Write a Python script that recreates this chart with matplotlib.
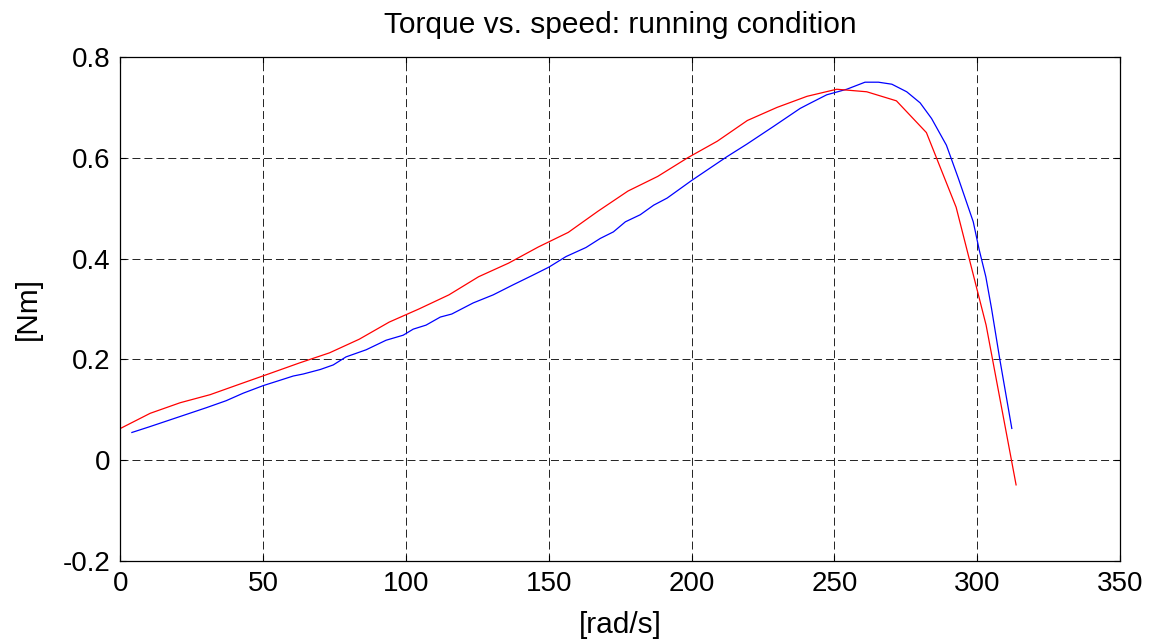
import matplotlib
matplotlib.use("Agg")
import matplotlib.pyplot as plt

plt.rcParams['font.family'] = ['Liberation Sans', 'DejaVu Sans']
plt.rcParams['axes.unicode_minus'] = False

# red curve
speed_red = [0, 10.4, 20.9, 31.4, 41.8, 52.3, 62.7, 73.2, 83.6, 94.1, 104.5,
             115.0, 125.4, 135.9, 146.3, 156.8, 167.2, 177.7, 188.1, 198.6,
             209.0, 219.5, 229.9, 240.4, 250.8, 261.3, 271.7, 282.2, 292.6,
             303.1, 313.6]
torque_red = [0.063, 0.093, 0.114, 0.130, 0.151, 0.172, 0.193, 0.213, 0.240,
              0.274, 0.300, 0.328, 0.364, 0.391, 0.423, 0.452, 0.494, 0.534,
              0.563, 0.600, 0.633, 0.674, 0.700, 0.722, 0.736, 0.731, 0.713,
              0.650, 0.502, 0.268, -0.049]

# blue curve
speed_blue = [4, 10, 20, 30, 37, 43, 50, 55, 60.5, 64, 70, 74.5, 79, 86, 93,
              99, 102.5, 107, 112, 116, 123.5, 130.5, 137.5, 144, 150, 156,
              163, 168, 172.6, 176.8, 182, 186.7, 191.4, 200, 212.3, 219.3,
              228.6, 238, 241.4, 247.3, 254.3, 260.7, 265.4, 270.1, 275.3,
              280, 284, 289.2, 293.4, 298.6, 300.7, 303, 305, 307.9, 312.1]
torque_blue = [0.055, 0.066, 0.085, 0.104, 0.118, 0.133, 0.148, 0.157, 0.167,
               0.171, 0.180, 0.189, 0.205, 0.219, 0.238, 0.248, 0.260, 0.268,
               0.284, 0.290, 0.312, 0.328, 0.348, 0.366, 0.383, 0.404, 0.422,
               0.440, 0.453, 0.473, 0.487, 0.506, 0.520, 0.555, 0.602, 0.627,
               0.662, 0.698, 0.708, 0.725, 0.736, 0.750, 0.750, 0.746, 0.731,
               0.709, 0.678, 0.625, 0.559, 0.473, 0.417, 0.364, 0.301, 0.200,
               0.063]

x_ticks = [0, 50, 100, 150, 200, 250, 300, 350]
y_ticks = [-0.2, 0, 0.2, 0.4, 0.6, 0.8]
y_tick_labels = ["-0.2", "0", "0.2", "0.4", "0.6", "0.8"]

fig = plt.figure(figsize=(11.56, 6.44), dpi=100)
ax = fig.add_axes([0.1042, 0.1289, 0.8647, 0.7826])

ax.plot(speed_blue, torque_blue, color="#0000ff", linewidth=0.9)
ax.plot(speed_red, torque_red, color="#ff0000", linewidth=0.9)

ax.set_xlim(0, 350)
ax.set_ylim(-0.2, 0.8)
ax.set_xticks(x_ticks)
ax.set_xticklabels([str(t) for t in x_ticks])
ax.set_yticks(y_ticks)
ax.set_yticklabels(y_tick_labels)

ax.grid(True, color="#222222", linestyle=(0, (8.2, 4.1)), linewidth=0.7)
ax.tick_params(direction="in", length=4, width=0.8, top=True, right=True,
               labelsize=20, pad=7)
for s in ax.spines.values():
    s.set_linewidth(0.9)

ax.set_title("Torque vs. speed: running condition", fontsize=21.5, pad=17)
ax.set_xlabel("[rad/s]", fontsize=21.5, labelpad=10)
ax.set_ylabel("[Nm]", fontsize=21.5, labelpad=15)

fig.savefig("out.png", dpi=100)
